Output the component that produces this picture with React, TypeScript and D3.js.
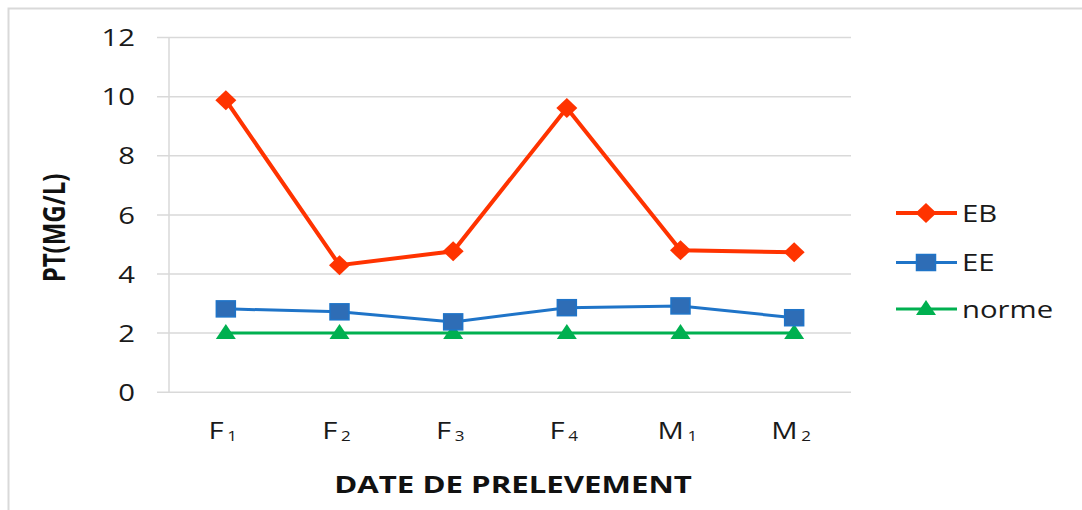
import React from "react";
import * as d3 from "d3";

const categories = ["F", "F", "F", "F", "M", "M"];
const subscripts = ["1", "2", "3", "4", "1", "2"];
const ebValues = [9.88, 4.3, 4.77, 9.62, 4.8, 4.74];
const eeValues = [2.82, 2.72, 2.38, 2.86, 2.92, 2.52];
const normeValues = [2, 2, 2, 2, 2, 2];
const yTicks = [0, 2, 4, 6, 8, 10, 12];

const W = 1082;
const H = 510;
const FONT = "'Open Sans', 'Liberation Sans', sans-serif";
const SX = 1.22; // horizontal text stretch

const RED = "#ff3300";
const BLUE = "#1f74c8";
const BLUE_FILL = "#2e6db6";
const GREEN = "#00b050";
const GRID = "#d9d9d9";

export default function App() {
  const keys = categories.map((c, i) => c + subscripts[i]);
  const x = d3.scalePoint<string>().domain(keys).range([169, 851]).padding(0.5);
  const y = d3.scaleLinear().domain([0, 12]).range([392.2, 37.6]);

  const line = (vals: number[]) =>
    d3.line<number>().x((_, i) => x(keys[i]) as number).y((v) => y(v))(vals) as string;

  const diamond = (cx: number, cy: number, c: string, key: string) => (
    <path key={key} d={`M${cx},${cy - 10}L${cx + 10.5},${cy}L${cx},${cy + 10}L${cx - 10.5},${cy}Z`} fill={c} />
  );
  const square = (cx: number, cy: number, key: string) => (
    <rect key={key} x={cx - 9.5} y={cy - 8} width={19} height={16} fill={BLUE_FILL} stroke={BLUE} strokeWidth={1.5} />
  );
  const triangle = (cx: number, cy: number, key: string) => (
    <path key={key} d={`M${cx},${cy - 9}L${cx + 10},${cy + 6}L${cx - 10},${cy + 6}Z`} fill={GREEN} />
  );

  const legend = [
    { label: "EB", y: 213, color: RED, width: 4, mark: (cx: number, cy: number) => diamond(cx, cy, RED, "l") },
    { label: "EE", y: 262.5, color: BLUE, width: 3, mark: (cx: number, cy: number) => square(cx, cy, "l") },
    { label: "norme", y: 309, color: GREEN, width: 3, mark: (cx: number, cy: number) => triangle(cx, cy, "l") },
  ];

  return (
    <svg
      width={W}
      height={H}
      style={{ position: "absolute", left: 0, top: 0, background: "#fff" }}
      fontFamily={FONT}
    >
      <rect x={8.5} y={8.5} width={1200} height={600} fill="#fff" stroke={GRID} strokeWidth={2} />

      {/* grid */}
      {yTicks.map((t) => (
        <line key={"g" + t} x1={157} x2={851} y1={y(t)} y2={y(t)} stroke={GRID} strokeWidth={1.5} />
      ))}
      <line x1={169} x2={169} y1={y(12)} y2={y(0)} stroke={GRID} strokeWidth={1.5} />

      {/* y tick labels */}
      {yTicks.map((t) => (
        <g key={"t" + t} transform={`translate(135,${y(t)}) scale(${SX},1)`}>
          <text textAnchor="end" dy="0.36em" fontSize={24} fill="#1a1a1a">
            {t}
          </text>
        </g>
      ))}

      {/* x tick labels */}
      {keys.map((k, i) => (
        <g key={"x" + k + i} transform={`translate(${(x(k) as number) - 3},439) scale(${SX},1)`}>
          <text textAnchor="middle" fontSize={24} fill="#1a1a1a">
            {categories[i]}
            <tspan fontSize={14} dx={3} dy={2}>
              {subscripts[i]}
            </tspan>
          </text>
        </g>
      ))}

      {/* axis titles */}
      <g transform={`translate(513,493) scale(1.3,1)`}>
        <text textAnchor="middle" fontSize={24} fontWeight="bold" fill="#111">
          DATE DE PRELEVEMENT
        </text>
      </g>
      <g transform={`translate(65,228) rotate(-90) scale(1,1.3)`}>
        <text textAnchor="middle" fontSize={24} fontWeight="bold" fill="#111">
          PT(MG/L)
        </text>
      </g>

      {/* series */}
      <path d={line(normeValues)} fill="none" stroke={GREEN} strokeWidth={3} />
      <path d={line(eeValues)} fill="none" stroke={BLUE} strokeWidth={3} />
      <path d={line(ebValues)} fill="none" stroke={RED} strokeWidth={4} />
      {normeValues.map((v, i) => triangle(x(keys[i]) as number, y(v), "n" + i))}
      {eeValues.map((v, i) => square(x(keys[i]) as number, y(v), "e" + i))}
      {ebValues.map((v, i) => diamond(x(keys[i]) as number, y(v), RED, "b" + i))}

      {/* legend */}
      {legend.map((l) => (
        <g key={l.label}>
          <line x1={896} x2={957} y1={l.y} y2={l.y} stroke={l.color} strokeWidth={l.width} />
          {l.mark(926, l.y)}
          <g transform={`translate(962,${l.y}) scale(${SX},1)`}>
            <text dy="0.36em" fontSize={24} fill="#1a1a1a">
              {l.label}
            </text>
          </g>
        </g>
      ))}
    </svg>
  );
}
